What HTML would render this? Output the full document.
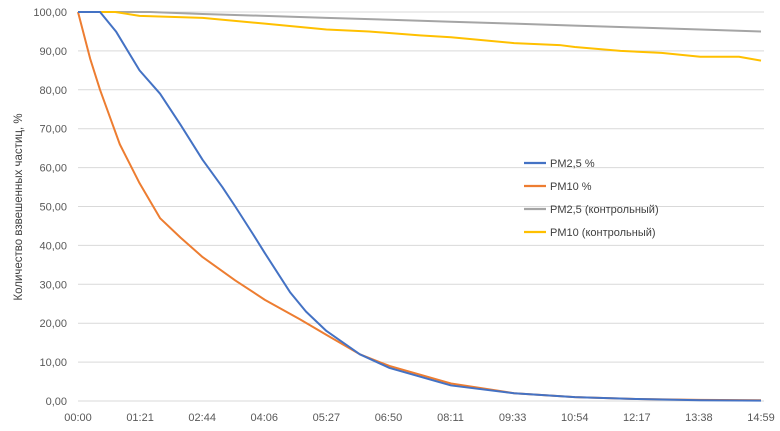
<!DOCTYPE html>
<html><head><meta charset="utf-8"><style>
body{margin:0;background:#fff}
svg{display:block;font-family:"Liberation Sans",sans-serif}
</style></head><body>
<svg id="chart" width="780" height="431">
<g id="grid"></g><g id="series"></g><g id="labels"></g>
<text transform="translate(22,207) rotate(-90)" text-anchor="middle" font-size="11.5" fill="#404040">Количество взвешенных частиц, %</text>
<g font-size="11" fill="#404040">
<g><line x1="524" y1="163" x2="546" y2="163" stroke="#4472C4" stroke-width="2.2"/><text x="550" y="167">PM2,5 %</text></g>
<g><line x1="524" y1="186" x2="546" y2="186" stroke="#ED7D31" stroke-width="2.2"/><text x="550" y="190">PM10 %</text></g>
<g><line x1="524" y1="209" x2="546" y2="209" stroke="#A5A5A5" stroke-width="2.2"/><text x="550" y="213">PM2,5 (контрольный)</text></g>
<g><line x1="524" y1="232" x2="546" y2="232" stroke="#FFC000" stroke-width="2.2"/><text x="550" y="236">PM10 (контрольный)</text></g>
</g>
</svg>
<script>
const xTickLabels=["00:00","01:21","02:44","04:06","05:27","06:50","08:11","09:33","10:54","12:17","13:38","14:59"];
const yTicks=[0,10,20,30,40,50,60,70,80,90,100];
const pm25T=[0,29,50,81,108,135,164,190,207,230,246,279,300,327,371,410,491,574,654,736,819,899];
const pm25V=[100,100,95,85,79,71,62,55,50,43,38,28,23,18,12,8.5,4,2,1,0.5,0.2,0.1];
const pm10T=[0,16,29,55,81,108,135,164,207,246,292,327,371,410,491,574,654,736,819,899];
const pm10V=[100,88,80,66,56,47,42,37,31,26,21,17,12,9,4.5,2,1,0.5,0.3,0.2];
const ctrl25T=[0,95,164,246,327,410,491,574,654,736,819,899];
const ctrl25V=[100,100,99.5,99,98.5,98,97.5,97,96.5,96,95.5,95];
const ctrl10T=[0,49,81,164,246,327,383,450,491,574,634,654,714,768,819,870,899];
const ctrl10V=[100,100,99,98.5,97,95.5,95,94,93.5,92,91.5,91,90,89.5,88.5,88.5,87.5];
const X0=78,X1=761,Y0=401,Y1=12,TMAX=899;
const xs=t=>X0+t/TMAX*(X1-X0);
const ys=v=>Y0-v/100*(Y0-Y1);
const NS="http://www.w3.org/2000/svg";
const grid=document.getElementById('grid'),lab=document.getElementById('labels'),ser=document.getElementById('series');
yTicks.forEach(v=>{
 const l=document.createElementNS(NS,'line');
 
 
 l.setAttribute('x1',X0);l.setAttribute('x2',X1+3);l.setAttribute('y1',ys(v));l.setAttribute('y2',ys(v));
 l.setAttribute('stroke','#d9d9d9');l.setAttribute('stroke-width','1');grid.appendChild(l);
 const t=document.createElementNS(NS,'text');
 
 
 t.setAttribute('x',67);t.setAttribute('y',ys(v)+4);t.setAttribute('text-anchor','end');
 t.setAttribute('font-size','11');t.setAttribute('fill','#595959');
 t.textContent=v.toFixed(2).replace('.',',');lab.appendChild(t);
});
xTickLabels.forEach((s,i)=>{
 const t=document.createElementNS(NS,'text');
 
 
 t.setAttribute('x',X0+i*(X1-X0)/(xTickLabels.length-1));t.setAttribute('y',421);t.setAttribute('text-anchor','middle');
 t.setAttribute('font-size','11');t.setAttribute('fill','#595959');
 t.textContent=s;lab.appendChild(t);
});
function line(T,V,c,name){
 const p=document.createElementNS(NS,'polyline');
 
 
 p.setAttribute('points',T.map((t,i)=>xs(t)+','+ys(V[i])).join(' '));
 p.setAttribute('fill','none');p.setAttribute('stroke',c);p.setAttribute('stroke-width','2');
 p.setAttribute('stroke-linejoin','round');ser.appendChild(p);
}
line(ctrl25T,ctrl25V,'#A5A5A5','series-pm25-control');
line(ctrl10T,ctrl10V,'#FFC000','series-pm10-control');
line(pm10T,pm10V,'#ED7D31','series-pm10');
line(pm25T,pm25V,'#4472C4','series-pm25');
</script>
</body></html>
